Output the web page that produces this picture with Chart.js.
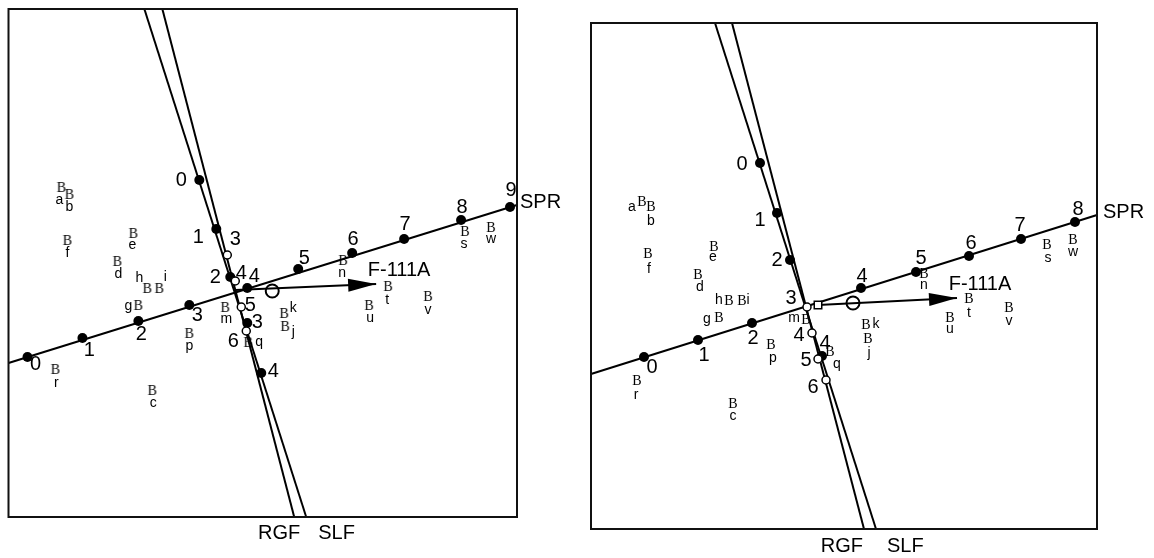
<!DOCTYPE html>
<html><head><meta charset="utf-8">
<script src="https://cdn.jsdelivr.net/npm/chart.js@4"></script>
<style>
html,body{margin:0;padding:0;background:#fff;}
#wrap{position:relative;width:1154px;height:558px;overflow:hidden;}
canvas{position:absolute;top:0;}
</style></head><body>
<div id="wrap">
<canvas id="c1" width="577" height="558" style="left:0"></canvas>
<canvas id="c2" width="577" height="558" style="left:577px"></canvas>
</div>
<script>
// ================= DATA =================
const sampleNames = ['a','b','c','d','e','f','g','h','i','j','k','m','n','p','q','r','s','t','u','v','w'];

// Left biplot
const leftSampleX = [-1.74,-1.66,-0.83,-1.18,-1.02,-1.68,-0.97,-0.88,-0.76,0.50,0.49,-0.10,1.08,-0.46,0.13,-1.80,2.30,1.53,1.34,1.93,2.56];
const leftSampleY = [1.03,0.96,-1.00,0.29,0.57,0.50,-0.15,0.02,0.02,-0.36,-0.23,-0.17,0.30,-0.43,-0.52,-0.79,0.59,0.04,-0.15,-0.06,0.63];

const leftSprTicks = ['0','1','2','3','4','5','6','7','8','9'];
const leftSprX = [-2.08,-1.53,-0.97,-0.46,0.12,0.63,1.17,1.69,2.26,2.75];
const leftSprY = [-0.67,-0.48,-0.31,-0.15,0.02,0.21,0.37,0.51,0.70,0.83];
const leftSprLineX = [-2.27,2.82];
const leftSprLineY = [-0.73,0.85];

const leftSlfTicks = ['0','1','2','3','4'];
const leftSlfX = [-0.36,-0.19,-0.05,0.12,0.26];
const leftSlfY = [1.10,0.61,0.13,-0.33,-0.83];
const leftSlfLineX = [-0.91,0.71];
const leftSlfLineY = [2.81,-2.27];

const leftRgfTicks = ['3','4','5','6'];
const leftRgfX = [-0.08,0.00,0.06,0.11];
const leftRgfY = [0.35,0.09,-0.17,-0.41];
const leftRgfLineX = [-0.73,0.59];
const leftRgfLineY = [2.81,-2.27];

const leftTargetName = 'F-111A';
const leftArrowX = [0.00,1.41];
const leftArrowY = [0.00,0.06];
const leftPredX = [0.37];
const leftPredY = [-0.01];

// Right biplot
const rightSampleX = [-1.65,-1.56,-0.74,-1.09,-0.93,-1.59,-0.88,-0.78,-0.65,0.61,0.59,-0.01,1.17,-0.36,0.23,-1.70,2.40,1.62,1.43,2.02,2.66];
const rightSampleY = [1.05,1.00,-0.97,0.32,0.60,0.53,-0.11,0.06,0.06,-0.32,-0.18,-0.13,0.33,-0.38,-0.45,-0.74,0.62,0.08,-0.11,-0.01,0.67];

const rightSprTicks = ['0','1','2','4','5','6','7','8'];
const rightSprX = [-1.63,-1.09,-0.55,0.54,1.09,1.62,2.14,2.68];
const rightSprY = [-0.51,-0.34,-0.17,0.18,0.34,0.50,0.67,0.84];
const rightSprLineX = [-2.16,2.90];
const rightSprLineY = [-0.68,0.91];

const rightSlfTicks = ['0','1','2','4'];
const rightSlfX = [-0.47,-0.30,-0.17,0.15];
const rightSlfY = [1.43,0.93,0.46,-0.50];
const rightSlfLineX = [-0.92,0.69];
const rightSlfLineY = [2.83,-2.23];

const rightRgfTicks = ['3','4','5','6'];
const rightRgfX = [0.00,0.05,0.11,0.19];
const rightRgfY = [-0.01,-0.27,-0.53,-0.74];
const rightRgfLineX = [-0.75,0.57];
const rightRgfLineY = [2.83,-2.23];

const rightTargetName = 'F-111A';
const rightArrowX = [0.11,1.50];
const rightArrowY = [0.01,0.08];
const rightPredX = [0.46];
const rightPredY = [0.03];
const rightOriginX = [0.11];
const rightOriginY = [0.01];

const axisNames = ['SPR','RGF','SLF'];

// ================= STYLE =================
const SANS = '"Liberation Sans", Arial, Helvetica, sans-serif';
const SERIF = '"Liberation Serif", "Times New Roman", serif';
const TICK_FONT = '20px ' + SANS;
const NAME_FONT = '20px ' + SANS;
const LETTER_FONT = '14px ' + SANS;

const leftSampleOff = [[-2,13],[0,13],[1,13],[1,13],[-1,12],[0,13],[-10,1],[-8,-10],[6,-11],[8,6],[9,-5],[1,12],[-1,13],[0,13],[11,0],[1,14],[-1,13],[-1,14],[1,13],[0,14],[0,12]];
const rightSampleOff = [[-10,6],[0,15],[0,13],[2,13],[-1,11],[1,16],[-12,2],[-10,0],[6,0],[1,15],[10,0],[-12,-1],[0,12],[2,14],[7,13],[-1,15],[1,14],[0,15],[0,12],[0,14],[0,13]];
const leftSprOff = [[8,7],[7,12],[3,13],[8,10],[7,-12],[6,-11],[1,-14],[1,-15],[1,-13],[1,-17]];
const rightSprOff = [[8,10],[6,15],[1,15],[1,-12],[5,-14],[2,-13],[-1,-14],[3,-13]];
const leftSlfOff = [[-18,0],[-18,8],[-15,0],[10,-1],[12,-2]];
const rightSlfOff = [[-18,1],[-17,7],[-13,0],[3,-13]];
const leftRgfOff = [[8,-16],[6,-8],[9,-2],[-13,10]];
const rightRgfOff = [[-16,-9],[-13,2],[-12,1],[-13,7]];

// "B" glyph used as the sample marker
function makeB(){
  const c = document.createElement('canvas');
  c.width = 14; c.height = 14;
  const g = c.getContext('2d');
  g.fillStyle = '#000';
  g.font = '14px ' + SERIF;
  g.textAlign = 'center';
  g.textBaseline = 'alphabetic';
  g.fillText('B', 7, 11.6);
  return c;
}
const B_MARK = makeB();

function pts(xs, ys){ return xs.map((x,i)=>({x:x, y:ys[i]})); }

const lineDS = (xs, ys) => ({data: pts(xs,ys), showLine:true, borderColor:'#000', borderWidth:2, pointRadius:0, pointHoverRadius:0, order:20, clip:false});
const filledDS = (xs, ys) => ({data: pts(xs,ys), showLine:false, pointRadius:5, pointHoverRadius:5, backgroundColor:'#000', borderColor:'#000', borderWidth:0, order:5});
const openDS = (xs, ys) => ({data: pts(xs,ys), showLine:false, pointRadius:4, pointHoverRadius:4, backgroundColor:'#fff', borderColor:'#000', borderWidth:1.5, order:3});

function buildTexts(cfg){
  const t = [];
  cfg.sampleX.forEach((x,i)=>t.push({text:sampleNames[i], x:x, y:cfg.sampleY[i], dx:cfg.sampleOff[i][0], dy:cfg.sampleOff[i][1], font:LETTER_FONT, align:'center'}));
  cfg.sprX.forEach((x,i)=>t.push({text:cfg.sprTicks[i], x:x, y:cfg.sprY[i], dx:cfg.sprOff[i][0], dy:cfg.sprOff[i][1], font:TICK_FONT, align:'center'}));
  cfg.slfX.forEach((x,i)=>t.push({text:cfg.slfTicks[i], x:x, y:cfg.slfY[i], dx:cfg.slfOff[i][0], dy:cfg.slfOff[i][1], font:TICK_FONT, align:'center'}));
  cfg.rgfX.forEach((x,i)=>t.push({text:cfg.rgfTicks[i], x:x, y:cfg.rgfY[i], dx:cfg.rgfOff[i][0], dy:cfg.rgfOff[i][1], font:TICK_FONT, align:'center'}));
  t.push({text:axisNames[0], x:cfg.sprLineX[1], y:cfg.sprLineY[1], dx:cfg.sprNameDx, dy:-3, font:NAME_FONT, align:'left'});
  t.push({text:axisNames[1], x:cfg.rgfLineX[1], y:cfg.rgfLineY[1], dx:cfg.rgfNameDx, dy:cfg.nameDy, font:NAME_FONT, align:'right'});
  t.push({text:axisNames[2], x:cfg.slfLineX[1], y:cfg.slfLineY[1], dx:cfg.slfNameDx, dy:cfg.nameDy, font:NAME_FONT, align:'left'});
  t.push({text:cfg.targetName, x:cfg.arrowX[1], y:cfg.arrowY[1], dx:23, dy:-14, font:NAME_FONT, align:'center'});
  return t;
}

const decorPlugin = {
  id:'decor',
  afterDatasetsDraw(chart, args, opts){
    const ctx = chart.ctx, a = chart.chartArea;
    const sx = chart.scales.x, sy = chart.scales.y;
    ctx.save();
    ctx.strokeStyle = '#111'; ctx.lineWidth = 2;
    ctx.strokeRect(a.left, a.top, a.right - a.left, a.bottom - a.top);
    const x0 = sx.getPixelForValue(opts.arrowX[0]), y0 = sy.getPixelForValue(opts.arrowY[0]);
    const x1 = sx.getPixelForValue(opts.arrowX[1]), y1 = sy.getPixelForValue(opts.arrowY[1]);
    const L = Math.hypot(x1-x0, y1-y0), ux = (x1-x0)/L, uy = (y1-y0)/L;
    const bx = x1 - 28*ux, by = y1 - 28*uy, w = 6.5;
    ctx.fillStyle = '#000';
    ctx.beginPath();
    ctx.moveTo(x1, y1);
    ctx.lineTo(bx - w*uy, by + w*ux);
    ctx.lineTo(bx + w*uy, by - w*ux);
    ctx.closePath(); ctx.fill();
    ctx.textBaseline = 'middle';
    opts.texts.forEach(t=>{
      ctx.font = t.font; ctx.textAlign = t.align;
      ctx.fillText(t.text, sx.getPixelForValue(t.x) + t.dx, sy.getPixelForValue(t.y) + t.dy);
    });
    ctx.restore();
  }
};

function makeChart(id, cfg){
  const datasets = [
    lineDS(cfg.sprLineX, cfg.sprLineY),
    lineDS(cfg.slfLineX, cfg.slfLineY),
    lineDS(cfg.rgfLineX, cfg.rgfLineY),
    Object.assign(lineDS(cfg.arrowX, cfg.arrowY), {order:15}),
    filledDS(cfg.sprX, cfg.sprY),
    filledDS(cfg.slfX, cfg.slfY),
    openDS(cfg.rgfX, cfg.rgfY),
    {data: pts(cfg.predX, cfg.predY), showLine:false, pointRadius:6.5, pointHoverRadius:6.5, backgroundColor:'rgba(0,0,0,0)', borderColor:'#000', borderWidth:2, order:2},
    {data: pts(cfg.sampleX, cfg.sampleY), showLine:false, pointStyle:B_MARK, pointRadius:5, order:4}
  ];
  if (cfg.originX){
    datasets.push({data: pts(cfg.originX, cfg.originY), showLine:false, pointStyle:'rect', pointRadius:5.3, pointHoverRadius:5.3, backgroundColor:'#fff', borderColor:'#000', borderWidth:1.5, order:1});
  }
  return new Chart(document.getElementById(id), {
    type:'scatter',
    data:{datasets},
    options:{
      responsive:false, animation:false, events:[],
      layout:{padding:cfg.padding},
      scales:{
        x:{type:'linear', min:cfg.xRange[0], max:cfg.xRange[1], display:false},
        y:{type:'linear', min:cfg.yRange[0], max:cfg.yRange[1], display:false}
      },
      plugins:{legend:{display:false}, tooltip:{enabled:false},
        decor:{arrowX:cfg.arrowX, arrowY:cfg.arrowY, texts:buildTexts(cfg)}}
    },
    plugins:[decorPlugin]
  });
}

makeChart('c1', {
  padding:{left:8, top:9, right:60, bottom:41},
  xRange:[-2.27,2.82], yRange:[-2.27,2.81],
  sampleX:leftSampleX, sampleY:leftSampleY, sampleOff:leftSampleOff,
  sprTicks:leftSprTicks, sprX:leftSprX, sprY:leftSprY, sprOff:leftSprOff, sprLineX:leftSprLineX, sprLineY:leftSprLineY,
  slfTicks:leftSlfTicks, slfX:leftSlfX, slfY:leftSlfY, slfOff:leftSlfOff, slfLineX:leftSlfLineX, slfLineY:leftSlfLineY,
  rgfTicks:leftRgfTicks, rgfX:leftRgfX, rgfY:leftRgfY, rgfOff:leftRgfOff, rgfLineX:leftRgfLineX, rgfLineY:leftRgfLineY,
  targetName:leftTargetName, arrowX:leftArrowX, arrowY:leftArrowY, predX:leftPredX, predY:leftPredY,
  sprNameDx:3, rgfNameDx:6, slfNameDx:12, nameDy:16
});

makeChart('c2', {
  padding:{left:14, top:23, right:57, bottom:29},
  xRange:[-2.16,2.90], yRange:[-2.23,2.83],
  sampleX:rightSampleX, sampleY:rightSampleY, sampleOff:rightSampleOff,
  sprTicks:rightSprTicks, sprX:rightSprX, sprY:rightSprY, sprOff:rightSprOff, sprLineX:rightSprLineX, sprLineY:rightSprLineY,
  slfTicks:rightSlfTicks, slfX:rightSlfX, slfY:rightSlfY, slfOff:rightSlfOff, slfLineX:rightSlfLineX, slfLineY:rightSlfLineY,
  rgfTicks:rightRgfTicks, rgfX:rightRgfX, rgfY:rightRgfY, rgfOff:rightRgfOff, rgfLineX:rightRgfLineX, rgfLineY:rightRgfLineY,
  targetName:rightTargetName, arrowX:rightArrowX, arrowY:rightArrowY, predX:rightPredX, predY:rightPredY,
  originX:rightOriginX, originY:rightOriginY,
  sprNameDx:6, rgfNameDx:-1, slfNameDx:11, nameDy:17
});
</script>
</body></html>
